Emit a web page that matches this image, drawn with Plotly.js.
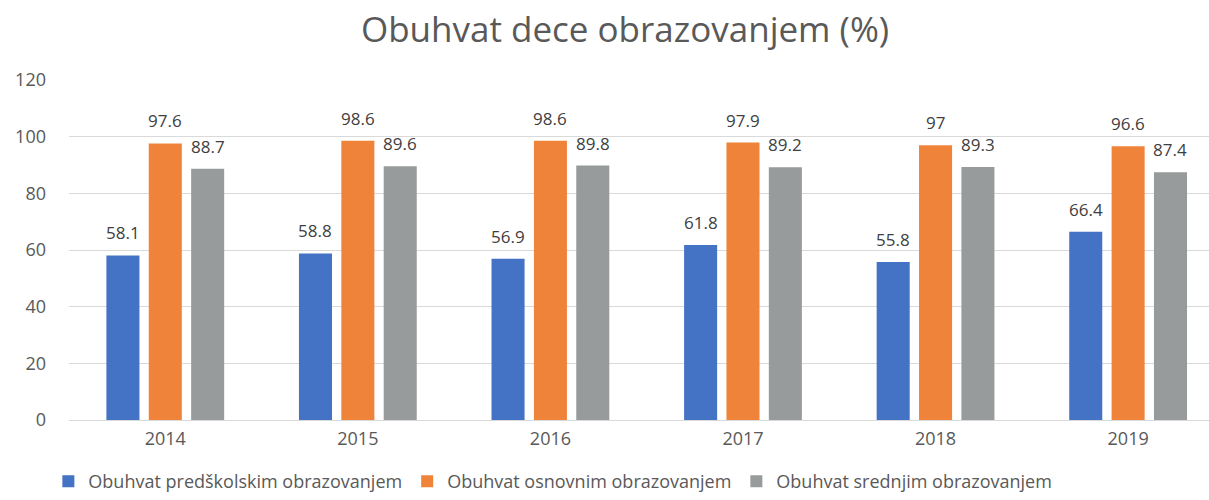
<!DOCTYPE html>
<html><head><meta charset="utf-8">
<script src="https://cdn.plot.ly/plotly-3.0.1.min.js"></script>
<style>body{margin:0;background:#fff}#chart{width:1209px;height:500px}</style>
</head><body><div id="chart"></div>
<script>
const years = ['2014','2015','2016','2017','2018','2019'];
const predskolsko = [58.1, 58.8, 56.9, 61.8, 55.8, 66.4];
const osnovno = [97.6, 98.6, 98.6, 97.9, 97, 96.6];
const srednje = [88.7, 89.6, 89.8, 89.2, 89.3, 87.4];
const names = ['Obuhvat predškolskim obrazovanjem','Obuhvat osnovnim obrazovanjem','Obuhvat srednjim obrazovanjem'];
const colors = ['#4472C4','#F0833A','#989B9B'];
const FONT = '"Open Sans", Lato, sans-serif';
const series = [predskolsko, osnovno, srednje];

const W = 1209, H = 500, ML = 69, MR = 0, MT = 80, MB = 80;
const xRange = [-0.5, 5.42];
const bargap = 0.34, bargroupgap = 0.22;
const pxPerUnit = (W - ML - MR) / (xRange[1] - xRange[0]);
const slot = (1 - bargap) / series.length;

const traces = series.map((v,i)=>({
  type:'bar', x:years, y:v, name:names[i],
  marker:{color:colors[i]}, hoverinfo:'skip'
}));
const annotations = [];
series.forEach((v,i)=>{
  const off = (i - (series.length-1)/2) * slot * pxPerUnit;
  v.forEach((val,j)=>{
    annotations.push({x:j, y:val, xref:'x', yref:'y', text:String(val),
      showarrow:false, xanchor:'center', yanchor:'bottom', xshift:off, yshift:9,
      font:{family:FONT, size:17, color:'#404040'}});
  });
});
const layout = {
  width:W, height:H,
  margin:{l:ML, r:MR, t:MT, b:MB},
  paper_bgcolor:'#fff', plot_bgcolor:'#fff',
  title:{text:'Obuhvat dece obrazovanjem (%)', x:0.517, xanchor:'center', y:0.94, yanchor:'middle',
    font:{family:FONT, size:35, color:'#595959'}},
  barmode:'group', bargap:bargap, bargroupgap:bargroupgap,
  xaxis:{type:'category', range:xRange, showgrid:false, zeroline:false, showline:false,
    ticks:'', ticklabelstandoff:6, tickfont:{family:FONT, size:18, color:'#595959'}, fixedrange:true},
  yaxis:{range:[0,120], dtick:20, showgrid:true, gridcolor:'#D9D9D9', gridwidth:1,
    zeroline:true, zerolinecolor:'#D9D9D9', zerolinewidth:1, showline:false, ticks:'',
    ticklabelstandoff:22,
    tickfont:{family:FONT, size:18, color:'#595959'}, fixedrange:true},
  annotations:annotations,
  showlegend:true,
  legend:{orientation:'h', xref:'container', x:0.04, xanchor:'left', yref:'container', y:0, yanchor:'bottom',
    font:{family:FONT, size:18, color:'#595959'},
    traceorder:'normal', itemclick:false},
  font:{family:FONT}
};
Plotly.newPlot('chart', traces, layout, {displayModeBar:false, staticPlot:true});
</script></body></html>
